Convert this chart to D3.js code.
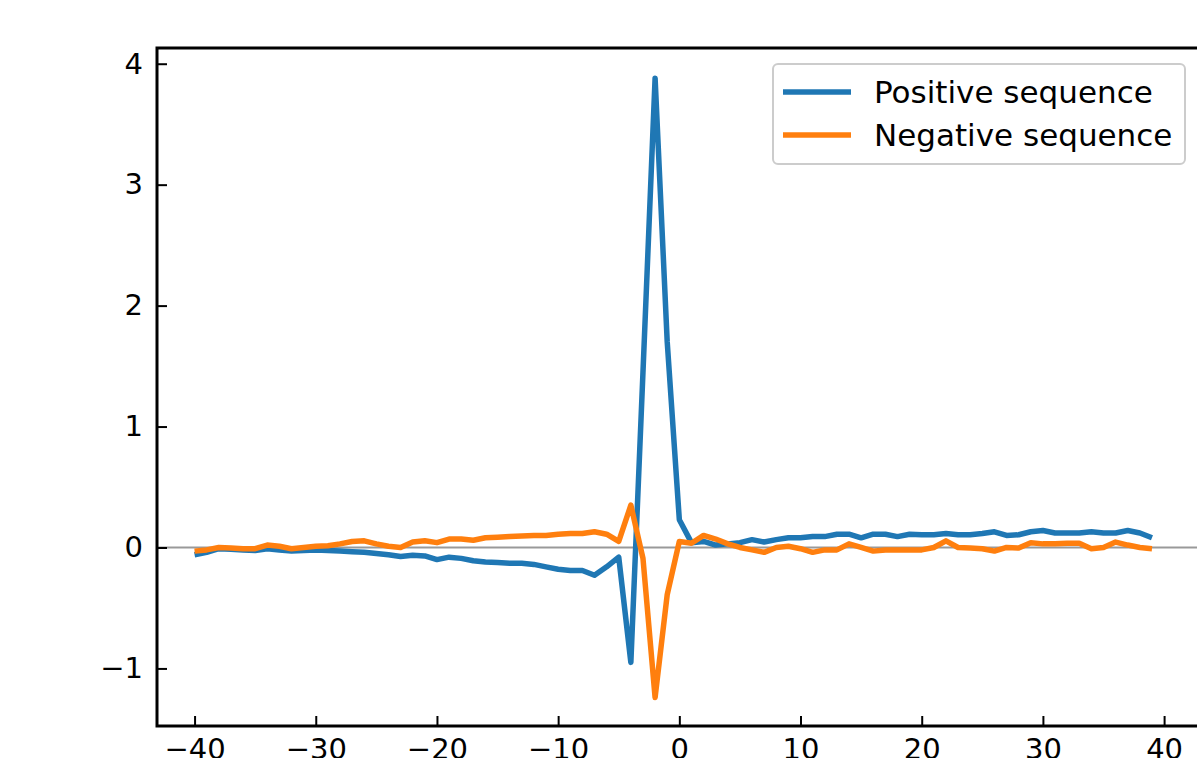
<!DOCTYPE html>
<html>
<head>
<meta charset="utf-8">
<script src="https://cdn.jsdelivr.net/npm/d3@7"></script>
<style>
  body { margin: 0; background: #fff; overflow: hidden; }
  text { font-family: "DejaVu Sans", sans-serif; }
</style>
</head>
<body>
<svg id="chart"></svg>
<script>
// lags -40 .. 39
let lags = d3.range(-40, 40);

let positive = [
  -0.06, -0.04, -0.01, -0.015, -0.02, -0.025, -0.01, -0.02, -0.03, -0.025,
  -0.02, -0.025, -0.03, -0.035, -0.04, -0.05, -0.06, -0.075, -0.065, -0.07,
  -0.10, -0.08, -0.09, -0.11, -0.12, -0.125, -0.13, -0.13, -0.14, -0.16,
  -0.18, -0.19, -0.19, -0.23, -0.16, -0.08, -0.95, 1.45, 3.88, 1.70,
  0.23, 0.04, 0.05, 0.02, 0.03, 0.04, 0.065, 0.045, 0.065, 0.08,
  0.08, 0.09, 0.09, 0.11, 0.11, 0.08, 0.11, 0.11, 0.09, 0.11,
  0.105, 0.105, 0.115, 0.105, 0.105, 0.115, 0.13, 0.10, 0.105, 0.13,
  0.14, 0.12, 0.12, 0.12, 0.13, 0.12, 0.12, 0.14, 0.12, 0.08
];

let negative = [
  -0.03, -0.02, 0.0, -0.005, -0.01, -0.01, 0.02, 0.01, -0.01, 0.0,
  0.01, 0.015, 0.03, 0.05, 0.055, 0.03, 0.01, 0.0, 0.045, 0.055,
  0.04, 0.07, 0.07, 0.06, 0.08, 0.085, 0.09, 0.095, 0.10, 0.10,
  0.11, 0.115, 0.115, 0.13, 0.11, 0.05, 0.35, -0.09, -1.24, -0.39,
  0.05, 0.035, 0.10, 0.07, 0.03, 0.0, -0.02, -0.04, 0.0, 0.01,
  -0.01, -0.04, -0.02, -0.02, 0.03, 0.0, -0.03, -0.02, -0.02, -0.02,
  -0.02, 0.0, 0.055, 0.0, -0.005, -0.01, -0.03, 0.0, -0.005, 0.04,
  0.03, 0.03, 0.035, 0.035, -0.01, 0.0, 0.045, 0.02, 0.0, -0.01
];

let xTicks = [-40, -30, -20, -10, 0, 10, 20, 30, 40];
let yTicks = [-1, 0, 1, 2, 3, 4];
let seriesNames = ["Positive sequence", "Negative sequence"];
let colors = ["#1f77b4", "#ff7f0e"];

let W = 1197, H = 758;
let mLeft = 157, mRight = 1215, mTop = 48, mBottom = 726;

let svg = d3.select("#chart").attr("width", W).attr("height", H);

let x = d3.scaleLinear().domain([-43.1, 44.2]).range([mLeft, mRight]);
let y = d3.scaleLinear().domain([-1.476, 4.13]).range([mBottom, mTop]);

let fmt = d => d < 0 ? "\u2212" + Math.abs(d) : String(d);

// zero reference line
svg.append("line")
  .attr("x1", mLeft).attr("x2", mRight)
  .attr("y1", y(0)).attr("y2", y(0))
  .attr("stroke", "#999").attr("stroke-width", 2);

let line = d3.line()
  .x((d, i) => x(lags[i]))
  .y(d => y(d));

[positive, negative].forEach((s, k) => {
  svg.append("path")
    .datum(s)
    .attr("d", line)
    .attr("fill", "none")
    .attr("stroke", colors[k])
    .attr("stroke-width", 5.5)
    .attr("stroke-linejoin", "round")
    .attr("stroke-linecap", "butt");
});

// axes (ticks pointing inward)
let xAxis = svg.append("g")
  .attr("transform", "translate(0," + mBottom + ")")
  .call(d3.axisBottom(x).tickValues(xTicks).tickFormat(fmt).tickSizeInner(-10).tickSizeOuter(0).tickPadding(12));
let yAxis = svg.append("g")
  .attr("transform", "translate(" + mLeft + ",0)")
  .call(d3.axisLeft(y).tickValues(yTicks).tickFormat(fmt).tickSizeInner(-10).tickSizeOuter(0).tickPadding(14));

[xAxis, yAxis].forEach(g => {
  g.select(".domain").remove();
  g.selectAll(".tick line").attr("stroke", "#000").attr("stroke-width", 2);
  g.selectAll(".tick text").attr("font-size", 29).attr("fill", "#000")
    .style("font-family", "DejaVu Sans");
});
xAxis.selectAll(".tick text").attr("dy", "0.72em");

// spines
svg.append("rect")
  .attr("x", mLeft).attr("y", mTop)
  .attr("width", mRight - mLeft).attr("height", mBottom - mTop)
  .attr("fill", "none").attr("stroke", "#000").attr("stroke-width", 3);

// legend
let lg = svg.append("g");
lg.append("rect")
  .attr("x", 773).attr("y", 64).attr("width", 412).attr("height", 100)
  .attr("rx", 5)
  .attr("fill", "#fff").attr("fill-opacity", 0.8)
  .attr("stroke", "#ccc").attr("stroke-width", 2);
seriesNames.forEach((name, k) => {
  let yy = 92 + k * 43;
  lg.append("line")
    .attr("x1", 783).attr("x2", 851)
    .attr("y1", yy).attr("y2", yy)
    .attr("stroke", colors[k]).attr("stroke-width", 5.5);
  lg.append("text")
    .attr("x", 874).attr("y", yy)
    .attr("dy", "0.36em")
    .attr("font-size", 31)
    .attr("fill", "#000")
    .text(name);
});
</script>
</body>
</html>
